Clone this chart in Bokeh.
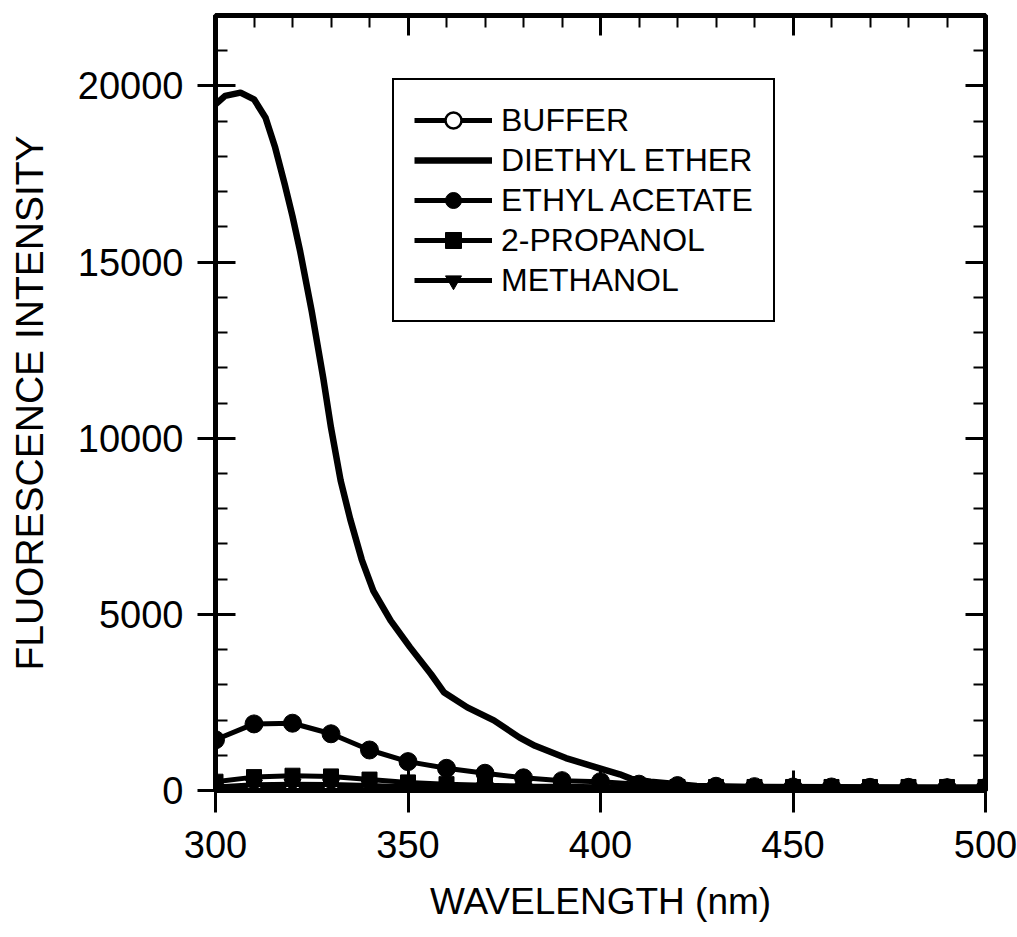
from bokeh.plotting import figure
from bokeh.models import (LinearAxis, SingleIntervalTicker, Range1d, Legend, LegendItem,
                          CustomJSTickFormatter)
from bokeh.embed import file_html
from bokeh.resources import INLINE

FONT = "Liberation Sans"

# ---- data ----
wl = [300, 310, 320, 330, 340, 350, 360, 370, 380, 390, 400,
      410, 420, 430, 440, 450, 460, 470, 480, 490, 500]

buffer_v = [60, 80, 90, 80, 70, 60, 50, 50, 45, 45, 40,
            40, 40, 40, 40, 40, 40, 40, 40, 40, 40]
ethyl_acetate = [1440, 1890, 1910, 1610, 1150, 820, 630, 490, 360, 280, 250,
                 180, 140, 120, 110, 100, 100, 90, 90, 80, 80]
propanol = [250, 380, 420, 400, 310, 230, 180, 150, 130, 120, 110,
            110, 100, 100, 100, 100, 100, 100, 100, 100, 100]
methanol = [100, 160, 180, 170, 140, 110, 90, 80, 70, 60, 60,
            55, 55, 50, 50, 50, 50, 50, 50, 50, 50]

ether_wl = [300, 302.5, 306.5, 310, 313, 315.5, 318, 320, 322, 325, 328, 330, 332.5,
            335, 338, 341, 345.5, 350.5, 356, 359.3, 365.4, 372.3, 379, 383, 391,
            400, 405, 408, 413, 418, 425, 440, 460, 480, 500]
ether_v = [19480, 19720, 19810, 19620, 19100, 18250, 17200, 16300, 15300, 13600, 11700,
           10300, 8800, 7700, 6550, 5670, 4820, 4070, 3300, 2790, 2360, 1990, 1500,
           1270, 920, 620, 460, 330, 250, 200, 130, 100, 90, 80, 80]

x_label = "WAVELENGTH (nm)"
y_label = "FLUORESCENCE INTENSITY"

p = figure(width=1017, height=937, output_backend="svg", toolbar_location=None,
           x_range=Range1d(300, 500), y_range=Range1d(0, 22000),
           min_border_left=215, min_border_right=32, min_border_top=15,
           min_border_bottom=147, x_axis_location=None, y_axis_location=None)
p.grid.visible = False
p.outline_line_color = "black"
p.outline_line_width = 5
p.background_fill_color = "white"
p.border_fill_color = "white"

xt = SingleIntervalTicker(interval=50, num_minor_ticks=5)
yt = SingleIntervalTicker(interval=5000, num_minor_ticks=5)

def style(ax, labels=True, out=18):
    ax.axis_line_width = 5
    ax.axis_line_color = "black"
    ax.major_tick_line_width = 3
    ax.minor_tick_line_width = 2
    ax.major_tick_in = 20
    ax.major_tick_out = out
    ax.minor_tick_in = 12
    ax.minor_tick_out = 0
    if labels:
        ax.major_label_text_font = FONT
        ax.major_label_text_font_size = "38px"
        ax.major_label_text_color = "black"
        ax.axis_label_text_font = FONT
        ax.axis_label_text_font_size = "37px"
        ax.axis_label_text_font_style = "normal"
        ax.axis_label_text_color = "black"
    else:
        ax.formatter = CustomJSTickFormatter(code="return '';")
        ax.major_label_text_font_size = "2px"
        ax.major_label_standoff = 0

bottom = LinearAxis(ticker=xt, axis_label=x_label)
style(bottom, True, 22)
bottom.major_label_standoff = 18
bottom.axis_label_standoff = 20
left = LinearAxis(ticker=yt, axis_label=y_label)
style(left, True, 18)
left.axis_label_text_font_size = "39px"
left.major_label_standoff = 14
left.axis_label_standoff = 24
top = LinearAxis(ticker=xt)
style(top, False, 0)
right = LinearAxis(ticker=yt)
style(right, False, 0)

p.add_layout(bottom, "below")
p.add_layout(left, "left")
p.add_layout(top, "above")
p.add_layout(right, "right")

# ---- series ----
b_line = p.line(wl, buffer_v, line_color="black", line_width=5)
b_mk = p.scatter(wl, buffer_v, marker="circle", size=15, fill_color="white",
                 line_color="black", line_width=2.5)

e_line = p.line(ether_wl, ether_v, line_color="black", line_width=6.5, line_join="round")

ea_line = p.line(wl, ethyl_acetate, line_color="black", line_width=5)
ea_mk = p.scatter(wl, ethyl_acetate, marker="circle", size=18, fill_color="black",
                  line_color="black")

pr_line = p.line(wl, propanol, line_color="black", line_width=5)
pr_mk = p.scatter(wl, propanol, marker="square", size=15, fill_color="black",
                  line_color="black")

me_line = p.line(wl, methanol, line_color="black", line_width=5)
me_mk = p.scatter(wl, methanol, marker="inverted_triangle", size=17, fill_color="black",
                  line_color="black")

legend = Legend(items=[
    LegendItem(label="BUFFER", renderers=[b_line, b_mk]),
    LegendItem(label="DIETHYL ETHER", renderers=[e_line]),
    LegendItem(label="ETHYL ACETATE", renderers=[ea_line, ea_mk]),
    LegendItem(label="2-PROPANOL", renderers=[pr_line, pr_mk]),
    LegendItem(label="METHANOL", renderers=[me_line, me_mk]),
], location=(177, 468))
legend.label_text_font = FONT
legend.label_text_font_size = "32px"
legend.label_text_color = "black"
legend.label_height = 40
legend.glyph_height = 40
legend.glyph_width = 78
legend.label_standoff = 9
legend.spacing = 0
legend.padding = 20
legend.margin = 0
legend.border_line_color = "black"
legend.border_line_alpha = 1
legend.border_line_width = 2
legend.background_fill_color = "white"
legend.background_fill_alpha = 1
p.add_layout(legend, "center")

open("out.html", "w").write(file_html(p, INLINE))
